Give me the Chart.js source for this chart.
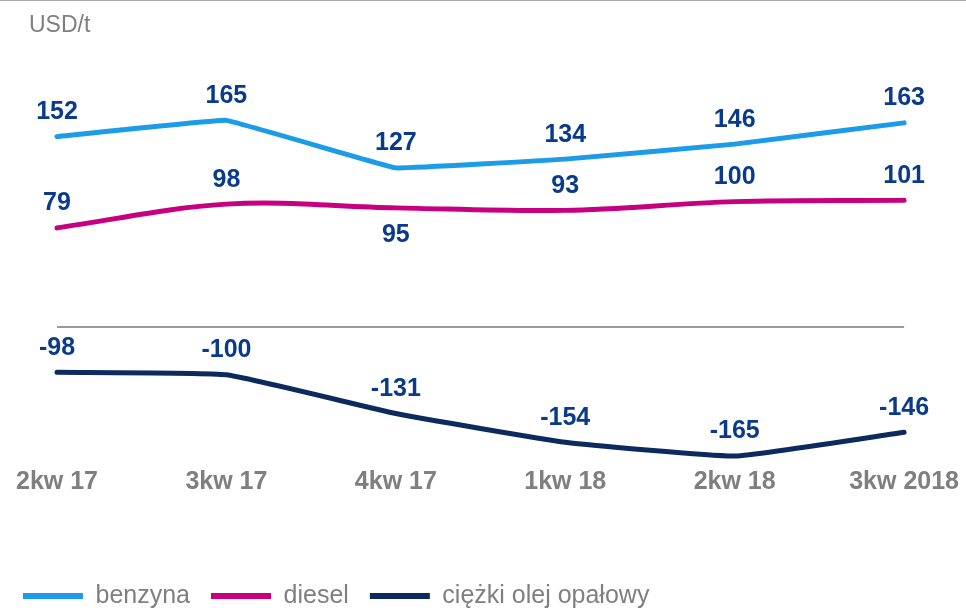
<!DOCTYPE html>
<html>
<head>
<meta charset="utf-8">
<script src="https://cdn.jsdelivr.net/npm/chart.js@4/dist/chart.umd.min.js"></script>
<style>
  html, body { margin: 0; padding: 0; background: #fff; overflow: hidden; }
  body { border-top: 1px solid #a9a9a9; width: 966px; height: 611px; position: relative; }
  #wrap { position: relative; width: 966px; height: 611px; }
  #unit { position: absolute; left: 29px; top: 11.8px; font: 23px/23px "Liberation Sans", Arial, sans-serif; color: #7f7f7f; }
</style>
</head>
<body>
<div id="wrap"><canvas id="c"></canvas></div>
<div id="unit">USD/t</div>
<script>
const categories = ['2kw 17', '3kw 17', '4kw 17', '1kw 18', '2kw 18', '3kw 2018'];
const benzyna = [152, 165, 127, 134, 146, 163];
const diesel = [79, 98, 95, 93, 100, 101];
const ciezkiOlej = [-98, -100, -131, -154, -165, -146];
const seriesNames = ['benzyna', 'diesel', 'ciężki olej opałowy'];

// Axis range (main) and the broken-axis shift used for the heavy fuel oil series
const yMin = -106.7, yMax = 229.3;
const heavyShift = 61.5;

const FONT = '"Liberation Sans", Arial, sans-serif';
const GRAY = '#7f7f7f';
const LABEL_BLUE = '#0a3a8c';

const valueLabels = {
  id: 'valueLabels',
  afterDatasetsDraw(chart, args, opts) {
    const ctx = chart.ctx;
    ctx.save();
    ctx.font = 'bold 25px ' + FONT;
    ctx.fillStyle = LABEL_BLUE;
    ctx.textAlign = 'center';
    ctx.textBaseline = 'middle';
    chart.data.datasets.forEach((ds, i) => {
      const meta = chart.getDatasetMeta(i);
      const below = (opts.below && opts.below[i]) || [];
      meta.data.forEach((pt, j) => {
        const isBelow = below.includes(j);
        const y = isBelow ? pt.y + 27 : pt.y - 24.5;
        ctx.fillText(String(ds.data[j]), pt.x, y);
      });
    });
    ctx.restore();
  }
};

new Chart(document.getElementById('c'), {
  type: 'line',
  data: {
    labels: categories,
    datasets: [
      { label: seriesNames[0], data: benzyna, borderColor: '#1c9be6', backgroundColor: '#1c9be6', borderWidth: 5, tension: 0.05, yAxisID: 'y' },
      { label: seriesNames[1], data: diesel, borderColor: '#c6007e', backgroundColor: '#c6007e', borderWidth: 5, tension: 0.35, yAxisID: 'y' },
      { label: seriesNames[2], data: ciezkiOlej, borderColor: '#0c2a5e', backgroundColor: '#0c2a5e', borderWidth: 5, tension: 0.12, yAxisID: 'y2' }
    ]
  },
  options: {
    responsive: true,
    maintainAspectRatio: false,
    animation: false,
    devicePixelRatio: 1,
    layout: { padding: { left: 2, right: 60, top: 39, bottom: -6.5 } },
    elements: {
      point: { radius: 0, hoverRadius: 0 },
      line: { borderCapStyle: 'round', borderJoinStyle: 'round', fill: false }
    },
    datasets: { line: { clip: false } },
    scales: {
      x: {
        type: 'category',
        offset: false,
        grid: { display: false, drawTicks: false },
        border: { display: false },
        ticks: { font: { family: FONT, size: 25, weight: 'bold' }, color: GRAY, padding: 7, maxRotation: 0, autoSkip: false },
        afterFit(s) { s.height = 102.5; }
      },
      y: {
        min: yMin, max: yMax,
        grid: { drawTicks: false, lineWidth: 2, color: c => (c.tick && c.tick.value === 0) ? '#9a9a9a' : 'rgba(0,0,0,0)' },
        border: { display: false },
        ticks: { display: false, stepSize: 50 },
        afterFit(s) { s.width = 55; }
      },
      y2: {
        display: false,
        min: yMin - heavyShift, max: yMax - heavyShift
      }
    },
    plugins: {
      legend: {
        position: 'bottom',
        align: 'start',
        labels: {
          boxWidth: 60, boxHeight: 6, padding: 21,
          font: { family: FONT, size: 25 },
          color: GRAY,
          generateLabels(chart) {
            const items = Chart.defaults.plugins.legend.labels.generateLabels(chart);
            items.forEach(it => { it.lineWidth = 0; it.fillStyle = it.strokeStyle; });
            return items;
          }
        }
      },
      tooltip: { enabled: false },
      valueLabels: { below: { 1: [2] } }
    }
  },
  plugins: [valueLabels]
});
</script>
</body>
</html>
